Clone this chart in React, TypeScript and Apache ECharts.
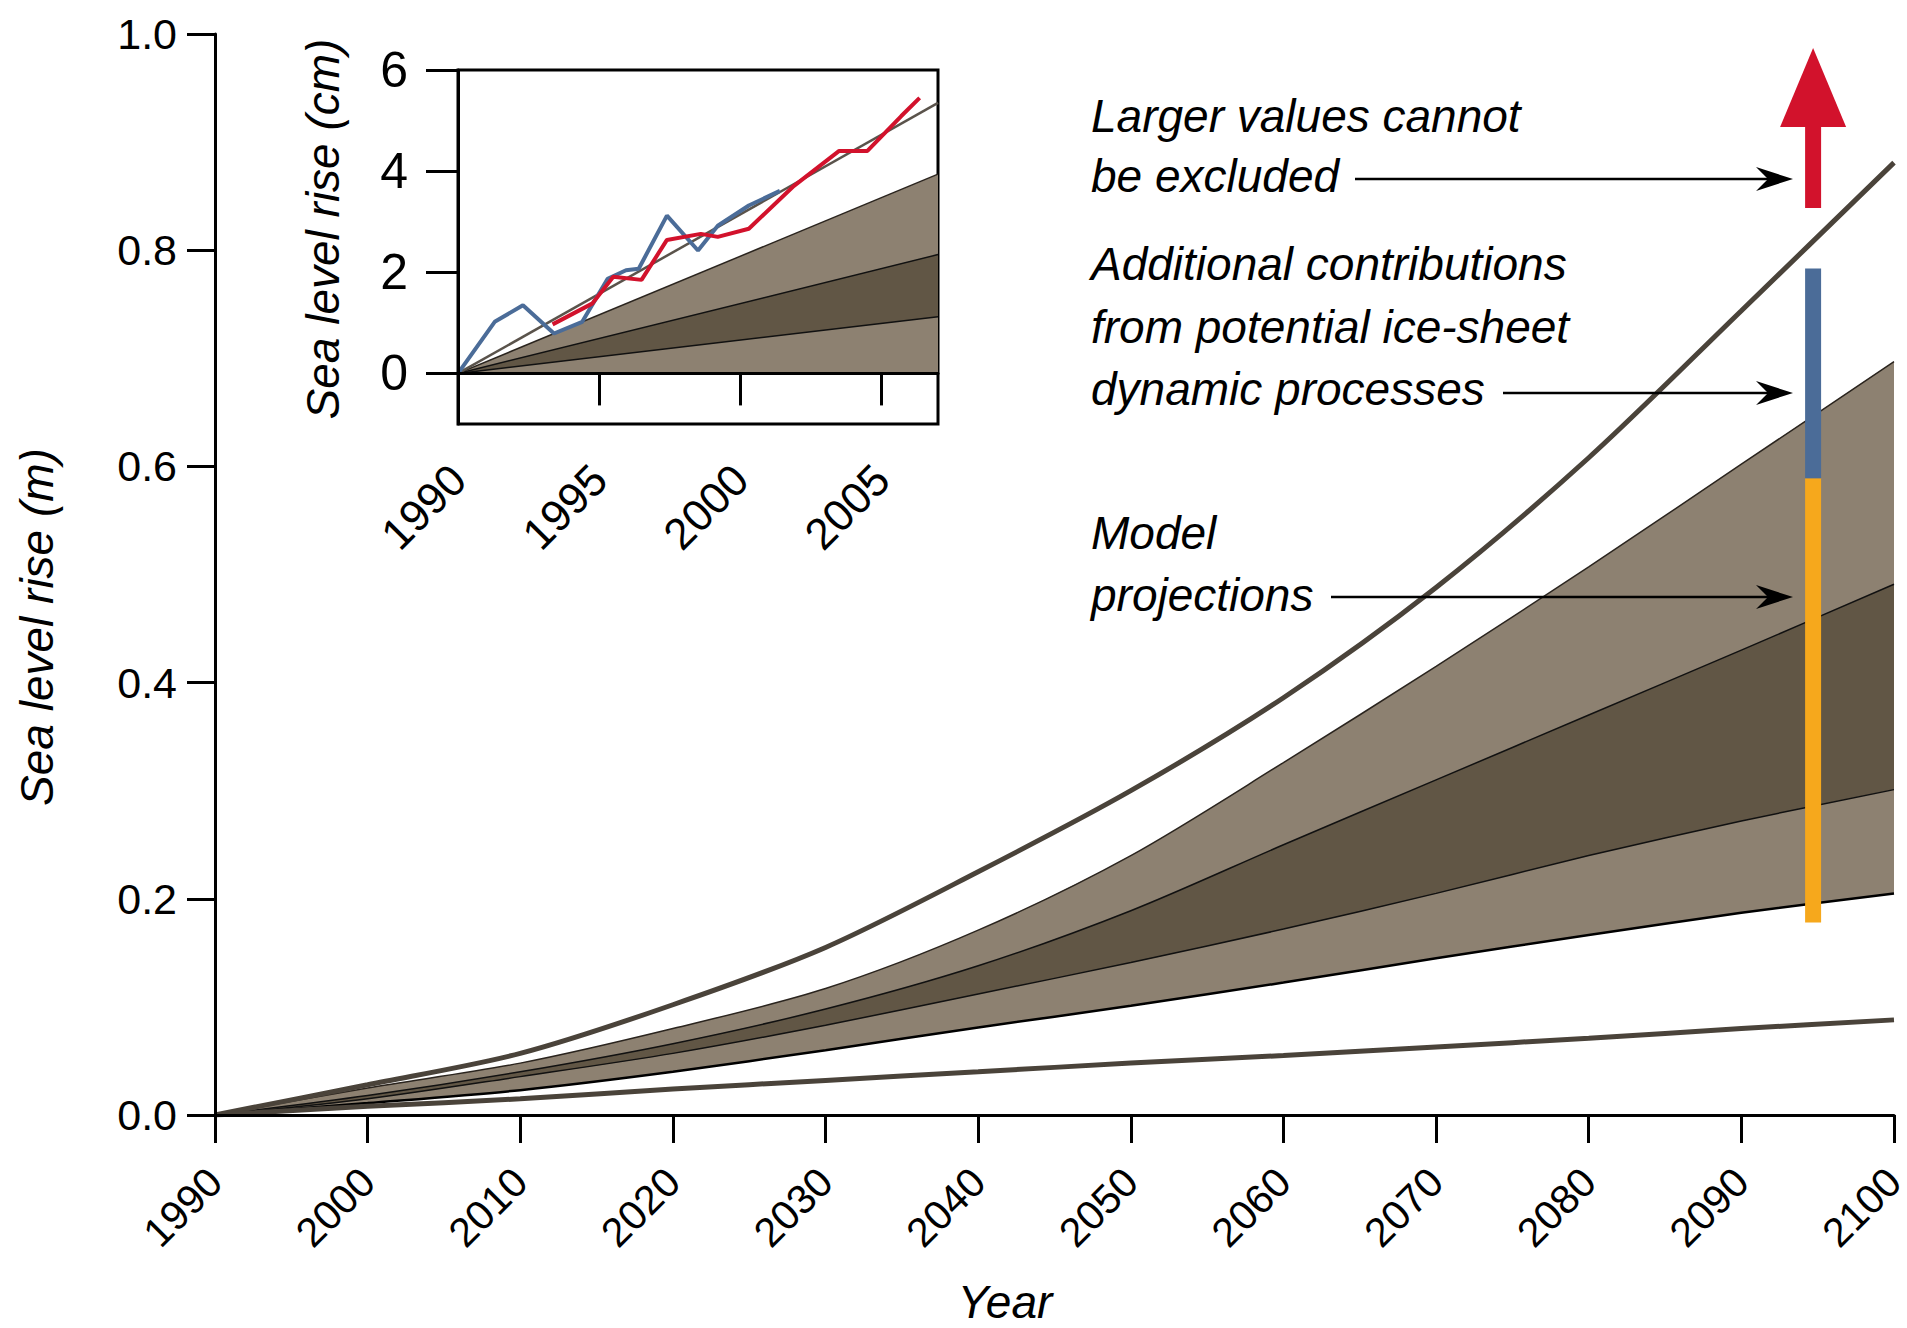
import React, { useEffect, useRef } from "react";
import * as echarts from "echarts";

// ---------- main chart data (sea level rise, m) ----------
const years = [1990, 2000, 2010, 2020, 2030, 2040, 2050, 2060, 2070, 2080, 2090, 2100];
const upperLine = [0, 0.028, 0.057, 0.102, 0.155, 0.225, 0.3, 0.386, 0.488, 0.608, 0.744, 0.881];
const lightTop = [0, 0.025, 0.048, 0.08, 0.117, 0.171, 0.24, 0.326, 0.415, 0.507, 0.602, 0.697];
const darkTop = [0, 0.018, 0.04, 0.066, 0.098, 0.138, 0.189, 0.25, 0.31, 0.37, 0.43, 0.491];
const darkBottom = [0, 0.015, 0.0355, 0.057, 0.083, 0.112, 0.141, 0.172, 0.205, 0.24, 0.272, 0.301];
const lightBottom = [0, 0.011, 0.023, 0.04, 0.06, 0.081, 0.101, 0.1225, 0.145, 0.1665, 0.187, 0.205];
const lowerLine = [0, 0.008, 0.015, 0.024, 0.032, 0.04, 0.048, 0.055, 0.063, 0.071, 0.08, 0.088];

// uncertainty bars near 2095
const barYear = 2094.7;
const orangeRange = [0.178, 0.589];
const blueRange = [0.589, 0.783];
const redShaft = [0.839, 0.914];
const redHead = [0.914, 0.987];

// ---------- inset data (cm) ----------
const insetBandYears = [1990, 2007];
const insetLightTop = [0, 3.94];
const insetDarkTop = [0, 2.35];
const insetDarkBottom = [0, 1.12];
const insetZero = [0, 0];
const insetTrend = [0, 5.35];
const blueYears = [1990, 1991.3, 1992.3, 1993.4, 1994.4, 1995.3, 1995.95, 1996.4, 1997.4, 1998.5, 1999.2, 2000.3, 2001.4];
const blueValues = [0, 1.02, 1.35, 0.79, 1.02, 1.87, 2.04, 2.07, 3.12, 2.43, 2.92, 3.32, 3.61];
const redYears = [1993.35, 1994.75, 1995.5, 1996.5, 1997.4, 1998.6, 1999.2, 2000.3, 2001.9, 2003.5, 2004.5, 2005.7, 2006.35];
const redValues = [0.97, 1.38, 1.91, 1.85, 2.64, 2.76, 2.7, 2.86, 3.71, 4.4, 4.4, 5.09, 5.45];

const mainYTicks = [0, 0.2, 0.4, 0.6, 0.8, 1.0];
const insetXTicks = [1990, 1995, 2000, 2005];
const insetYTicks = [0, 2, 4, 6];

const FONT = "'Liberation Sans', Arial, Helvetica, sans-serif";
const LIGHT = "#8d8171";
const DARK = "#615645";
const THICK = "#4a433a";
const RED = "#d2122c";
const BLUE = "#4b6c98";
const ORANGE = "#f6a81c";

const pairs = (xs: number[], ys: number[]) => xs.map((x, i) => [x, ys[i]]);

export default function App() {
  const ref = useRef<HTMLDivElement>(null);
  useEffect(() => {
    if (!ref.current) return;
    const chart = echarts.init(ref.current, null, { renderer: "svg" });
    const SM = 0.3;

    // filled area from a curve down to zero, layered (later layers cover earlier ones)
    const layer = (name: string, data: number[][], fill: string, edge: string, edgeW: number, z: number) => ({
      name,
      type: "line",
      data,
      xAxisIndex: 0,
      yAxisIndex: 0,
      smooth: SM,
      symbol: "none",
      lineStyle: { color: edge, width: edgeW },
      areaStyle: { color: fill, opacity: 1, origin: "start" },
      silent: true,
      z,
    });
    const band = (name: string, xs: number[], upper: number[], lower: number[], color: string, xi = 0) => ({
      name,
      type: "custom",
      xAxisIndex: xi,
      yAxisIndex: xi,
      silent: true,
      z: 2,
      encode: { x: 0, y: [1, 2] },
      data: xs.map((x, i) => [x, lower[i], upper[i]]),
      renderItem: (params: any, api: any) => {
        if (params.dataIndex !== 0) return null;
        const pts: number[][] = [];
        for (let i = 0; i < xs.length; i++) pts.push(api.coord([xs[i], upper[i]]));
        for (let i = xs.length - 1; i >= 0; i--) pts.push(api.coord([xs[i], lower[i]]));
        return { type: "polygon", shape: { points: pts }, style: { fill: color } };
      },
    });
    const line = (name: string, data: number[][], color: string, width: number, xi = 0, smooth: number | boolean = false, z = 3) => ({
      name,
      type: "line",
      data,
      xAxisIndex: xi,
      yAxisIndex: xi,
      smooth,
      symbol: "none",
      lineStyle: { color, width },
      silent: true,
      z,
    });
    const bar = (name: string, range: number[], color: string) => ({
      name,
      type: "line",
      data: [
        [barYear, range[0]],
        [barYear, range[1]],
      ],
      symbol: "none",
      lineStyle: { color, width: 16, cap: "butt" },
      silent: true,
      z: 8,
      clip: false,
    });

    const labelStyle = { color: "#000", fontFamily: FONT, fontSize: 44 };
    const axisLine = { show: true, lineStyle: { color: "#000", width: 3 } };

    const arrows = [
      { x1: 1355, x2: 1793, y: 179 },
      { x1: 1503, x2: 1793, y: 393 },
      { x1: 1331, x2: 1793, y: 597 },
    ];
    const texts = [
      { t: "Larger values cannot", y: 116 },
      { t: "be excluded", y: 176 },
      { t: "Additional contributions", y: 264 },
      { t: "from potential ice-sheet", y: 327 },
      { t: "dynamic processes", y: 389 },
      { t: "Model", y: 533 },
      { t: "projections", y: 595 },
    ];
    const italic = { fontFamily: FONT, fontStyle: "italic", fontSize: 46, fill: "#000" };
    const graphic: any[] = [];
    texts.forEach((o) =>
      graphic.push({ type: "text", z: 100, x: 1091, y: o.y, style: { ...italic, text: o.t, align: "left", verticalAlign: "middle" } })
    );
    arrows.forEach((a) => {
      graphic.push({ type: "line", z: 100, shape: { x1: a.x1, y1: a.y, x2: a.x2 - 20, y2: a.y }, style: { stroke: "#000", lineWidth: 2.5 } });
      graphic.push({
        type: "polygon",
        z: 100,
        shape: { points: [[a.x2, a.y], [a.x2 - 37, a.y - 12], [a.x2 - 25, a.y], [a.x2 - 37, a.y + 12]] },
        style: { fill: "#000" },
      });
    });
    graphic.push({
      type: "text",
      z: 100,
      x: 37,
      y: 627,
      rotation: Math.PI / 2,
      style: { ...italic, text: "Sea level rise (m)", align: "center", verticalAlign: "middle" },
    });
    graphic.push({
      type: "text",
      z: 100,
      x: 323,
      y: 229,
      rotation: Math.PI / 2,
      style: { ...italic, text: "Sea level rise (cm)", align: "center", verticalAlign: "middle" },
    });
    graphic.push({
      type: "text",
      z: 100,
      x: 1005,
      y: 1302,
      style: { ...italic, text: "Year", align: "center", verticalAlign: "middle" },
    });

    const option: any = {
      animation: false,
      backgroundColor: "#fff",
      graphic,
      grid: [
        { left: 215, top: 34, width: 1679, height: 1081, outerBoundsMode: "none", containLabel: false },
        {
          left: 458,
          top: 70,
          width: 480,
          height: 354,
          outerBoundsMode: "none",
          containLabel: false,
          show: true,
          borderColor: "#000",
          borderWidth: 3,
          backgroundColor: "transparent",
        },
      ],
      xAxis: [
        {
          type: "value",
          gridIndex: 0,
          min: 1990,
          max: 2100,
          interval: 10,
          z: 10,
          axisLine,
          axisTick: { show: true, length: 28, lineStyle: { color: "#000", width: 3 } },
          axisLabel: { ...labelStyle, fontSize: 41, rotate: 45, margin: 60, formatter: (v: number) => String(v) },
          splitLine: { show: false },
        },
        {
          type: "value",
          gridIndex: 1,
          min: 1990,
          max: 2007,
          interval: 5,
          z: 10,
          axisLine,
          axisTick: { show: true, length: 32, lineStyle: { color: "#000", width: 3 }, customValues: insetXTicks },
          axisLabel: { ...labelStyle, fontSize: 44, rotate: 45, margin: 48, customValues: insetXTicks, formatter: (v: number) => String(v) },
          splitLine: { show: false },
        },
      ],
      yAxis: [
        {
          type: "value",
          gridIndex: 0,
          min: 0,
          max: 1,
          interval: 0.2,
          z: 10,
          axisLine,
          axisTick: { show: true, length: 28, lineStyle: { color: "#000", width: 3 } },
          axisLabel: { ...labelStyle, fontSize: 43, margin: 38, customValues: mainYTicks, formatter: (v: number) => v.toFixed(1) },
          splitLine: { show: false },
        },
        {
          type: "value",
          gridIndex: 1,
          min: -1,
          max: 6,
          interval: 1,
          z: 10,
          axisLine,
          axisTick: { show: true, length: 32, lineStyle: { color: "#000", width: 3 }, customValues: insetYTicks },
          axisLabel: { ...labelStyle, fontSize: 50, margin: 50, customValues: insetYTicks, formatter: (v: number) => String(v) },
          splitLine: { show: false },
        },
      ],
      series: [
        // main bands: layered smooth areas
        layer("lightTop", pairs(years, lightTop), LIGHT, "#2a241e", 1.5, 2),
        layer("darkTop", pairs(years, darkTop), DARK, "#111", 1.5, 3),
        layer("darkBottom", pairs(years, darkBottom), LIGHT, "#111", 1.5, 4),
        layer("lightBottom", pairs(years, lightBottom), "#ffffff", "#000", 2.5, 5),
        line("upper", pairs(years, upperLine), THICK, 5, 0, SM, 6),
        line("lower", pairs(years, lowerLine), THICK, 5, 0, SM, 6),
        bar("orange", orangeRange, ORANGE),
        bar("blue", blueRange, BLUE),
        bar("redShaft", redShaft, RED),
        {
          name: "redHead",
          type: "custom",
          xAxisIndex: 0,
          yAxisIndex: 0,
          clip: false,
          silent: true,
          z: 8,
          encode: { x: 0, y: [1, 2] },
          data: [[barYear, redHead[0], redHead[1]]],
          renderItem: (params: any, api: any) => {
            const b = api.coord([api.value(0), api.value(1)]);
            const t = api.coord([api.value(0), api.value(2)]);
            const hw = 33;
            return {
              type: "polygon",
              shape: { points: [[b[0] - hw, b[1]], [b[0] + hw, b[1]], [t[0], t[1]]] },
              style: { fill: RED },
            };
          },
        },
        // inset
        band("iLightBand", insetBandYears, insetLightTop, insetZero, LIGHT, 1),
        band("iDarkBand", insetBandYears, insetDarkTop, insetDarkBottom, DARK, 1),
        line("iZero", pairs(insetBandYears, insetZero), "#000", 2, 1),
        line("iLightTop", pairs(insetBandYears, insetLightTop), "#2a241e", 1.5, 1),
        line("iDarkTop", pairs(insetBandYears, insetDarkTop), "#111", 1.5, 1),
        line("iDarkBottom", pairs(insetBandYears, insetDarkBottom), "#111", 1.5, 1),
        line("iTrend", pairs(insetBandYears, insetTrend), "#5a534b", 2.5, 1, false, 4),
        line("iBlue", pairs(blueYears, blueValues), BLUE, 4, 1, false, 5),
        line("iRed", pairs(redYears, redValues), RED, 4, 1, false, 6),
      ],
    };
    chart.setOption(option);
    return () => chart.dispose();
  }, []);
  return (
    <div
      ref={ref}
      style={{ position: "fixed", left: 0, top: 0, width: 1907, height: 1328, background: "#fff" }}
    />
  );
}
